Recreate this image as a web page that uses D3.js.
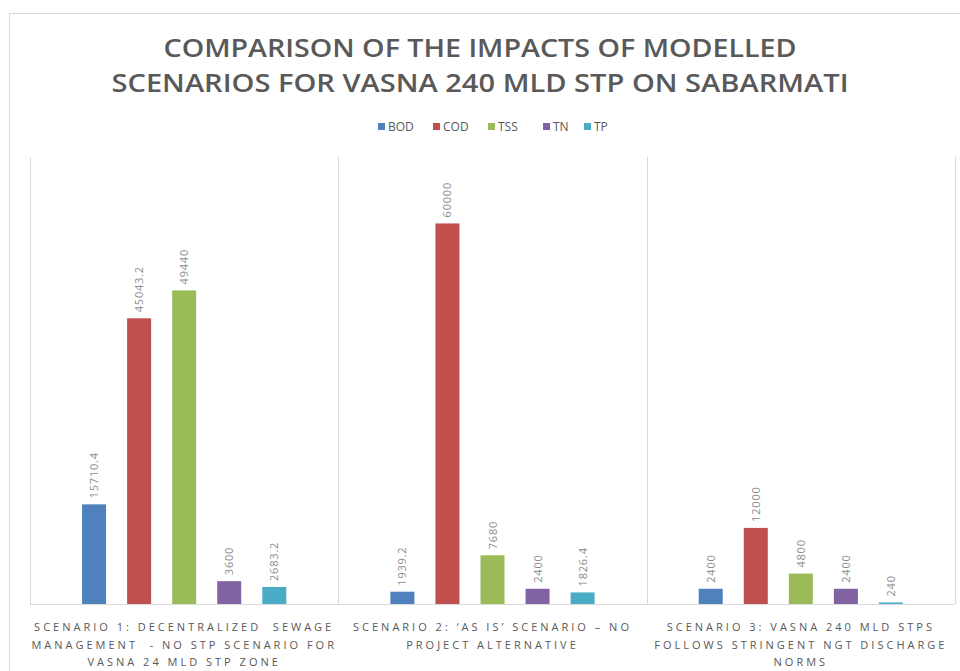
<!DOCTYPE html>
<html>
<head>
<meta charset="utf-8">
<script src="https://cdn.jsdelivr.net/npm/d3@7"></script>
<style>
  body { margin: 0; background: #fff; }
  svg { display: block; font-family: "Open Sans", sans-serif; }
</style>
</head>
<body>
<div id="chart"></div>
<script>
  // data
  const series = ['BOD', 'COD', 'TSS', 'TN', 'TP'];
  const colors = ['#4f81bd', '#c0504d', '#9bbb59', '#8064a2', '#4bacc6'];
  const scenarios = ['s1', 's2', 's3'];
  const scenarioLabels = [
    ['SCENARIO 1: DECENTRALIZED  SEWAGE', 'MANAGEMENT  - NO STP SCENARIO FOR', 'VASNA 24 MLD STP ZONE'],
    ['SCENARIO 2: \u2018AS IS\u2019 SCENARIO \u2013 NO', 'PROJECT ALTERNATIVE'],
    ['SCENARIO 3: VASNA 240 MLD STPS', 'FOLLOWS STRINGENT NGT DISCHARGE', 'NORMS']
  ];
  const bod = [15710.4, 1939.2, 2400];
  const cod = [45043.2, 60000, 12000];
  const tss = [49440, 7680, 4800];
  const tn = [3600, 2400, 2400];
  const tp = [2683.2, 1826.4, 240];
  const yMax = 70000;

  (() => {
    const values = [bod, cod, tss, tn, tp];

    const W = 960, H = 671;
    const plotLeft = 30, plotRight = 955, plotTop = 160, plotBottom = 604;

    const svg = d3.select('#chart').append('svg')
      .attr('width', W).attr('height', H);

    // chart frame
    svg.append('rect')
      .attr('x', 9.5).attr('y', 13.5)
      .attr('width', 1000).attr('height', 700)
      .attr('fill', '#fff').attr('stroke', '#d9d9d9');

    // title
    const titleLines = ['COMPARISON OF THE IMPACTS OF MODELLED', 'SCENARIOS FOR VASNA 240 MLD STP ON SABARMATI'];
    const titleLen = [633, 737];
    svg.selectAll('text.title').data(titleLines).enter().append('text')
      .attr('class', 'title')
      .attr('x', 480).attr('y', (d, i) => 57 + i * 35)
      .attr('text-anchor', 'middle')
      .attr('textLength', (d, i) => titleLen[i])
      .attr('lengthAdjust', 'spacingAndGlyphs')
      .style('font-size', '25px').style('font-weight', 600)
      .attr('fill', '#595959')
      .text(d => d);

    // legend
    const legX = [378, 433, 488, 543, 584];
    const leg = svg.append('g');
    series.forEach((s, i) => {
      leg.append('rect').attr('x', legX[i]).attr('y', 123)
        .attr('width', 7).attr('height', 7).attr('fill', colors[i]);
      leg.append('text').attr('x', legX[i] + 10).attr('y', 131)
        .style('font-size', '12px').attr('fill', '#595959')
        .text(s);
    });

    const x0 = d3.scaleBand().domain(scenarios).range([plotLeft, plotRight]);
    const x1 = d3.scaleBand().domain(series).range([0, x0.bandwidth()])
      .paddingInner(0.467).paddingOuter(1.155);
    const y = d3.scaleLinear().domain([0, yMax]).range([plotBottom, plotTop]);

    // category separators
    const seps = scenarios.map(d => x0(d)).concat([plotRight]);
    svg.selectAll('line.sep').data(seps).enter().append('line')
      .attr('x1', d => Math.round(d) + 0.5).attr('x2', d => Math.round(d) + 0.5)
      .attr('y1', plotTop - 3).attr('y2', plotBottom)
      .attr('stroke', '#d9d9d9');

    // baseline
    svg.append('line')
      .attr('x1', plotLeft).attr('x2', plotRight)
      .attr('y1', plotBottom + 0.5).attr('y2', plotBottom + 0.5)
      .attr('stroke', '#d9d9d9');

    // bars
    const groups = svg.selectAll('g.grp').data(scenarios).enter().append('g')
      .attr('transform', d => `translate(${x0(d)},0)`);

    groups.each(function (sc, si) {
      const g = d3.select(this);
      series.forEach((s, k) => {
        const v = values[k][si];
        g.append('rect')
          .attr('x', x1(s)).attr('width', x1.bandwidth())
          .attr('y', y(v)).attr('height', plotBottom - y(v))
          .attr('fill', colors[k]);
        const cx = x1(s) + x1.bandwidth() / 2 + 4;
        g.append('text')
          .attr('transform', `translate(${cx},${y(v) - 6}) rotate(-90)`)
          .style('font-size', '11px').style('letter-spacing', '0.8px')
          .attr('fill', '#8c8c8c')
          .text(v);
      });
    });

    // category labels
    groups.each(function (sc, si) {
      const g = d3.select(this);
      g.selectAll('text.cat').data(scenarioLabels[si]).enter().append('text')
        .attr('x', x0.bandwidth() / 2).attr('y', (d, i) => 631 + i * 17.5)
        .attr('text-anchor', 'middle')
        .style('font-size', '11px').style('letter-spacing', '3px')
        .style('white-space', 'pre')
        .attr('fill', '#595959')
        .text(d => d);
    });
  })();
</script>
</body>
</html>
